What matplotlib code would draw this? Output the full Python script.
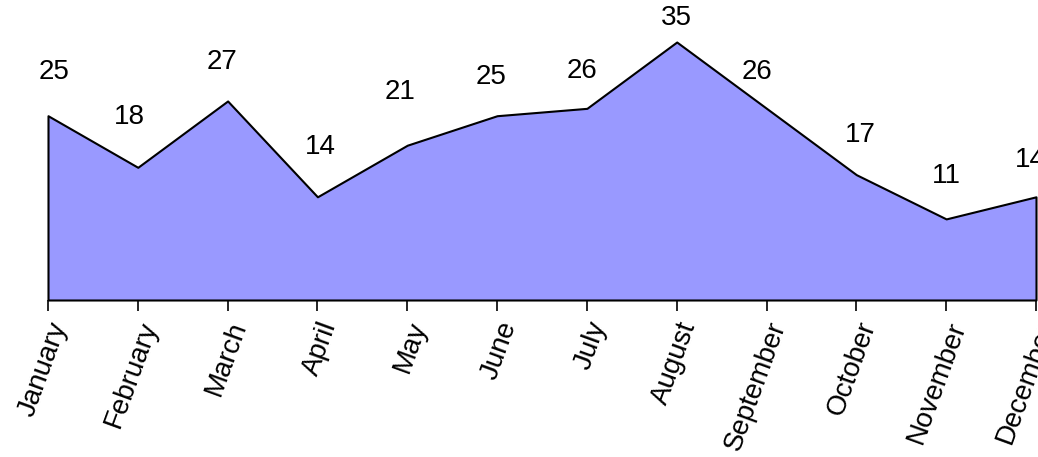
import numpy as np
import matplotlib.pyplot as plt

plt.rcParams['font.family'] = ['Liberation Sans', 'DejaVu Sans']

months = ['January', 'February', 'March', 'April', 'May', 'June', 'July',
          'August', 'September', 'October', 'November', 'December']
values = [25, 18, 27, 14, 21, 25, 26, 35, 26, 17, 11, 14]

# label offsets in pixels (dx, dy) from each point
label_dx = [6, -8, -6, 3, -7, -6, -5, 0, -10, 4, 0, -6]
label_dy = [44, 50, 39, 50, 53, 39, 37, 24, 36, 40, 43, 37]

fig = plt.figure(figsize=(10.38, 4.57), dpi=100)
ax = fig.add_axes([48 / 1038, (457 - 300) / 457, (1036 - 48) / 1038, (300 - 42) / 457])

x = np.arange(len(months))
ax.fill_between(x, values, 0, facecolor='#9999ff', edgecolor='black', linewidth=1.5, clip_on=False)

for xi, v, dx, dy in zip(x, values, label_dx, label_dy):
    ax.annotate(str(v), (xi, v), xytext=(dx * 0.72, dy * 0.72), textcoords='offset points',
                ha='center', va='center', fontsize=20, annotation_clip=False)

ax.set_xlim(0, len(months) - 1)
ax.set_ylim(0, 35)
for s in ax.spines.values():
    s.set_visible(False)
ax.set_yticks([])
ax.set_xticks(x)
ax.set_xticklabels(months, rotation=70, ha='right', va='top', rotation_mode='anchor', fontsize=20)
ax.tick_params(axis='x', length=8, width=1.2, color='black', pad=5)

plt.savefig('out.png', dpi=100)
